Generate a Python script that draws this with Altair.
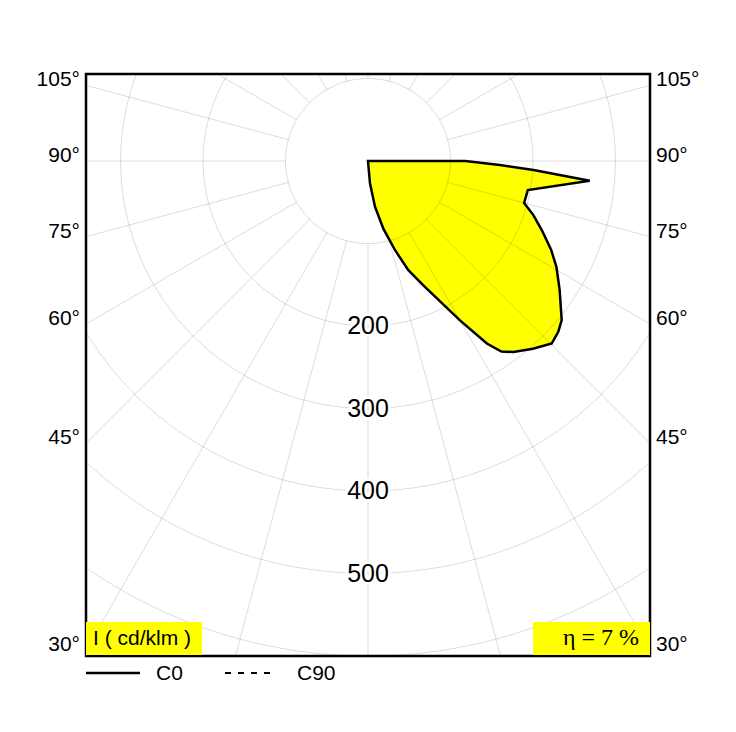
import altair as alt
import pandas as pd
import numpy as np

# ---- data (gamma in degrees from nadir, intensity in cd/klm) ----
gamma = [0, 5.1, 8.7, 12.8, 16.9, 20.3, 24.0, 26.3, 30.0, 33.1, 35.0, 37.3, 41.3, 45.2,
         48.1, 50.6, 56.1, 60.7, 64.1, 68.3, 71.9, 75.0, 79.7, 84.9, 86.9, 88.3, 90.0, 90.0]
intensity = [0, 27, 56, 84, 113, 141, 165, 183, 223, 264, 282, 291, 303, 314,
             310, 304, 280, 262, 247, 227, 211, 196, 197, 270, 201, 160, 118, 0]

ring_values = [100, 200, 300, 400, 500, 600, 700, 800]
ring_labels = [200, 300, 400, 500]
spoke_angles = list(range(0, 360, 15))
side_angles = [30, 45, 60, 75, 90, 105]
unit_label = "I ( cd/klm )"
eta_label = "η = 7 %"
legend_names = ["C0", "C90"]

XMAX = 342
Y_TOP = 105.5
Y_BOT = -600
W, H = 564, 582

curve = pd.DataFrame({"g": gamma, "r": intensity, "i": list(range(len(gamma)))})
rings = pd.DataFrame([{"r": r, "g": a} for r in ring_values for a in np.arange(0, 361, 2)])
spokes = pd.DataFrame([{"g": a, "r": r} for a in spoke_angles for r in (100, 1000)])
rlabels = pd.DataFrame({"r": ring_labels})
slabels = pd.DataFrame({"a": side_angles, "t": [f"{a}°" for a in side_angles]})

xs = alt.Scale(domain=[-XMAX, XMAX], nice=False, zero=False)
ys = alt.Scale(domain=[Y_BOT, Y_TOP], nice=False, zero=False)
X = alt.X("px:Q", scale=xs, axis=None)
Y = alt.Y("py:Q", scale=ys, axis=None)
polar = dict(px="datum.r*sin(datum.g*PI/180)", py="-datum.r*cos(datum.g*PI/180)")

fill = alt.Chart(curve).transform_calculate(**polar).mark_line(
    fill="#ffff00", strokeOpacity=0, interpolate="linear-closed", clip=True
).encode(x=X, y=Y, order="i:Q")

grid_rings = alt.Chart(rings).transform_calculate(**polar).mark_line(
    color="black", strokeOpacity=0.14, strokeWidth=1, clip=True
).encode(x=X, y=Y, detail="r:N", order="g:Q")

grid_spokes = alt.Chart(spokes).transform_calculate(**polar).mark_line(
    color="black", strokeOpacity=0.14, strokeWidth=1, clip=True
).encode(x=X, y=Y, detail="g:N", order="r:Q")

outline = alt.Chart(curve).transform_calculate(**polar).mark_line(
    color="black", strokeWidth=2.5, interpolate="linear-closed", clip=True
).encode(x=X, y=Y, order="i:Q")

rl_base = alt.Chart(rlabels).transform_calculate(px="0", py="-datum.r", t="toString(datum.r)")
rl_halo = rl_base.mark_text(font="Liberation Sans", fontSize=25, stroke="white", strokeWidth=6,
                            color="white", baseline="middle", align="center").encode(x=X, y=Y, text="t:N")
rl_text = rl_base.mark_text(font="Liberation Sans", fontSize=25, color="black",
                            baseline="middle", align="center").encode(x=X, y=Y, text="t:N")

sl_base = alt.Chart(slabels).transform_calculate(
    py=f"-{XMAX}*cos(datum.a*PI/180)/sin(datum.a*PI/180)")
sl_left = sl_base.mark_text(font="Liberation Sans", fontSize=21, align="right", baseline="middle",
                            dy=-5, color="black").encode(x=alt.value(-6), y=Y, text="t:N")
sl_right = sl_base.mark_text(font="Liberation Sans", fontSize=21, align="left", baseline="middle",
                             dy=-5, color="black").encode(x=alt.value(W + 6), y=Y, text="t:N")

one = pd.DataFrame({"u": [unit_label], "e": [eta_label]})
box_l = alt.Chart(one).mark_rect(color="#ffff00").encode(
    x=alt.value(0), x2=alt.value(116), y=alt.value(548), y2=alt.value(581))
box_r = alt.Chart(one).mark_rect(color="#ffff00").encode(
    x=alt.value(447), x2=alt.value(W), y=alt.value(548), y2=alt.value(581))
txt_l = alt.Chart(one).mark_text(font="Liberation Sans", fontSize=21, align="left", baseline="middle",
                                 color="black").encode(x=alt.value(7), y=alt.value(565), text="u:N")
txt_r = alt.Chart(one).mark_text(font="Liberation Serif, DejaVu Serif, serif", fontSize=24, align="right",
                                 baseline="middle", color="black").encode(x=alt.value(553), y=alt.value(564), text="e:N")

leg = pd.DataFrame({"n": legend_names})
leg_solid = alt.Chart(leg).transform_filter("datum.n == 'C0'").mark_rule(
    color="black", strokeWidth=2.5).encode(x=alt.value(0), x2=alt.value(54), y=alt.value(599))
leg_dash = alt.Chart(leg).transform_filter("datum.n == 'C90'").mark_rule(
    color="black", strokeWidth=2, strokeDash=[6, 7]).encode(x=alt.value(139), x2=alt.value(190), y=alt.value(599))
leg_t0 = alt.Chart(leg).transform_filter("datum.n == 'C0'").mark_text(
    font="Liberation Sans", fontSize=21, align="left", baseline="middle", color="black"
).encode(x=alt.value(70), y=alt.value(600), text="n:N")
leg_t1 = alt.Chart(leg).transform_filter("datum.n == 'C90'").mark_text(
    font="Liberation Sans", fontSize=21, align="left", baseline="middle", color="black"
).encode(x=alt.value(211), y=alt.value(600), text="n:N")

chart = alt.layer(
    fill, grid_rings, grid_spokes, outline, rl_halo, rl_text, sl_left, sl_right,
    box_l, box_r, txt_l, txt_r, leg_solid, leg_dash, leg_t0, leg_t1
).properties(
    width=W, height=H, autosize="none",
    padding={"left": 78, "top": 66, "right": 60, "bottom": 40},
    background="white"
).configure_view(stroke="black", strokeWidth=2.5)

chart.save("out.html", embed_options={"renderer": "svg", "actions": False})
